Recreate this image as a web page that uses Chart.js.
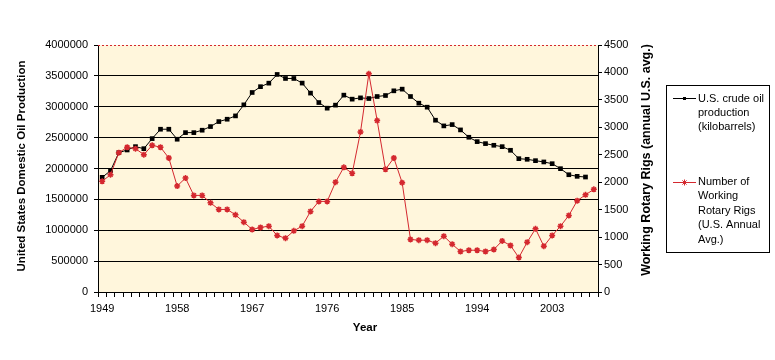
<!DOCTYPE html>
<html>
<head>
<meta charset="utf-8">
<script src="https://cdn.jsdelivr.net/npm/chart.js"></script>
<style>
  html, body { margin: 0; padding: 0; background: #fff; }
  #wrap { width: 775px; height: 360px; }
</style>
</head>
<body>
<div id="wrap"><canvas id="oilChart" width="775" height="360"></canvas></div>
<script>
// -----------------------------
// Data
// -----------------------------
const years = [
  1949, 1950, 1951, 1952, 1953, 1954, 1955, 1956, 1957, 1958,
  1959, 1960, 1961, 1962, 1963, 1964, 1965, 1966, 1967, 1968,
  1969, 1970, 1971, 1972, 1973, 1974, 1975, 1976, 1977, 1978,
  1979, 1980, 1981, 1982, 1983, 1984, 1985, 1986, 1987, 1988,
  1989, 1990, 1991, 1992, 1993, 1994, 1995, 1996, 1997, 1998,
  1999, 2000, 2001, 2002, 2003, 2004, 2005, 2006, 2007, 2008
];

// U.S. crude oil production (kilobarrels), no value for 2008
const oilProduction = [
  1857000, 1964000, 2256000, 2300000, 2354000, 2321000, 2484000, 2636000, 2636000, 2474000,
  2581000, 2581000, 2620000, 2679000, 2760000, 2798000, 2852000, 3031000, 3231000, 3325000,
  3382000, 3523000, 3458000, 3458000, 3383000, 3221000, 3068000, 2977000, 3026000, 3188000,
  3123000, 3144000, 3133000, 3166000, 3182000, 3258000, 3285000, 3166000, 3058000, 2993000,
  2782000, 2690000, 2711000, 2625000, 2506000, 2435000, 2403000, 2376000, 2354000, 2295000,
  2159000, 2149000, 2127000, 2106000, 2078000, 1997000, 1899000, 1873000, 1862000, null
];

// Number of working rotary rigs (U.S. annual avg.)
const rotaryRigs = [
  2016, 2137, 2538, 2637, 2612, 2502, 2673, 2637, 2441, 1930,
  2076, 1760, 1760, 1625, 1504, 1504, 1406, 1273, 1139, 1175,
  1200, 1030, 980, 1114, 1200, 1468, 1651, 1651, 2000, 2272,
  2162, 2916, 3975, 3123, 2235, 2441, 1991, 957, 944, 944,
  890, 1017, 871, 738, 761, 761, 738, 774, 931, 847,
  628, 907, 1151, 834, 1030, 1200, 1395, 1662, 1771, 1870
];

const leftTicks = { min: 0, max: 4000000, step: 500000 };
const rightTicks = { min: 0, max: 4500, step: 500 };
const labelEvery = 9;

const seriesNames = [
  ["U.S. crude oil", "production", "(kilobarrels)"],
  ["Number of", "Working", "Rotary Rigs", "(U.S. Annual", "Avg.)"]
];

// -----------------------------
// Styles
// -----------------------------
const FONT = "'Liberation Sans', Arial, sans-serif";
const RED = "#d4282f";
const PLOT_BG = "#fff6dc";

// -----------------------------
// Extra drawing: plot background, titles, legend
// -----------------------------
const decor = {
  id: "decor",
  beforeDraw(chart) {
    const { ctx, chartArea: a } = chart;
    ctx.save();
    ctx.fillStyle = PLOT_BG;
    ctx.fillRect(a.left, a.top, a.right - a.left, a.bottom - a.top);
    ctx.restore();
  },
  afterDraw(chart) {
    const { ctx, chartArea: a } = chart;
    ctx.save();

    // dashed red top border
    ctx.strokeStyle = RED;
    ctx.lineWidth = 1;
    ctx.setLineDash([2, 2]);
    ctx.beginPath();
    ctx.moveTo(a.left, a.top + 0.5);
    ctx.lineTo(a.right, a.top + 0.5);
    ctx.stroke();
    ctx.setLineDash([]);

    // axis titles
    ctx.fillStyle = "#000";
    ctx.textAlign = "center";
    ctx.textBaseline = "middle";

    ctx.font = "bold 11.5px " + FONT;
    ctx.save();
    ctx.translate(22, 166);
    ctx.rotate(-Math.PI / 2);
    ctx.fillText("United States Domestic Oil Production", 0, 0);
    ctx.restore();

    ctx.font = "bold 12.5px " + FONT;
    ctx.save();
    ctx.translate(647, 160);
    ctx.rotate(-Math.PI / 2);
    ctx.fillText("Working Rotary Rigs (annual U.S. avg.)", 0, 0);
    ctx.restore();

    ctx.font = "bold 11.5px " + FONT;
    ctx.fillText("Year", 365, 328);

    // legend
    ctx.strokeStyle = "#000";
    ctx.lineWidth = 1;
    ctx.strokeRect(666.5, 85.5, 103, 167);

    ctx.font = "11px " + FONT;
    ctx.textAlign = "left";

    // entry 1
    ctx.beginPath();
    ctx.moveTo(673, 98.5);
    ctx.lineTo(696, 98.5);
    ctx.stroke();
    ctx.fillStyle = "#000";
    ctx.fillRect(683, 97, 3, 3);
    seriesNames[0].forEach((t, i) => ctx.fillText(t, 698, 99 + i * 14));

    // entry 2
    ctx.strokeStyle = RED;
    ctx.beginPath();
    ctx.moveTo(673, 182.5);
    ctx.lineTo(696, 182.5);
    ctx.stroke();
    Chart.helpers.drawPoint(ctx, { pointStyle: "star", radius: 3, borderWidth: 1.5 }, 684.5, 182.5);
    ctx.fillStyle = "#000";
    seriesNames[1].forEach((t, i) => ctx.fillText(t, 698, 182 + i * 14.4));

    ctx.restore();
  }
};

// -----------------------------
// Chart
// -----------------------------
new Chart(document.getElementById("oilChart"), {
  type: "line",
  data: {
    labels: years,
    datasets: [
      {
        label: "U.S. crude oil production (kilobarrels)",
        data: oilProduction,
        yAxisID: "y",
        borderColor: "#000",
        backgroundColor: "#000",
        borderWidth: 1,
        pointStyle: "rect",
        pointRadius: 3.3,
        pointBorderWidth: 0,
        tension: 0,
        order: 2
      },
      {
        label: "Number of Working Rotary Rigs (U.S. Annual Avg.)",
        data: rotaryRigs,
        yAxisID: "y1",
        borderColor: RED,
        backgroundColor: RED,
        borderWidth: 1,
        pointStyle: "star",
        pointRadius: 3,
        pointBorderWidth: 1.5,
        tension: 0,
        order: 1
      }
    ]
  },
  options: {
    responsive: false,
    animation: false,
    layout: { padding: { top: 45, right: 137, bottom: 0, left: 0 } },
    plugins: {
      legend: { display: false },
      tooltip: { enabled: false }
    },
    scales: {
      x: {
        type: "category",
        offset: true,
        afterFit: (s) => { s.height = 68; },
        grid: {
          offset: true,
          drawOnChartArea: false,
          drawTicks: true,
          tickLength: 5,
          color: "#000"
        },
        border: { color: "#000" },
        ticks: {
          autoSkip: false,
          maxRotation: 0,
          padding: 5,
          color: "#000",
          font: { family: FONT, size: 11 },
          callback: function (v, i) {
            return i % labelEvery === 0 ? String(years[i]) : "";
          }
        }
      },
      y: {
        position: "left",
        min: leftTicks.min,
        max: leftTicks.max,
        afterFit: (s) => { s.width = 98; },
        grid: {
          color: (c) => (c.tick && c.tick.value === leftTicks.max ? "rgba(0,0,0,0)" : "#000"),
          tickColor: "#000",
          tickLength: 4,
          lineWidth: 1
        },
        border: { color: "#000" },
        ticks: {
          stepSize: leftTicks.step,
          padding: 6,
          color: "#000",
          font: { family: FONT, size: 11 },
          callback: (v) => String(v)
        }
      },
      y1: {
        position: "right",
        min: rightTicks.min,
        max: rightTicks.max,
        afterFit: (s) => { s.width = 40; },
        grid: {
          drawOnChartArea: false,
          tickLength: 4,
          color: "#000"
        },
        border: { color: "#000" },
        ticks: {
          stepSize: rightTicks.step,
          padding: 2,
          color: "#000",
          font: { family: FONT, size: 11 },
          callback: (v) => String(v)
        }
      }
    }
  },
  plugins: [decor]
});
</script>
</body>
</html>
